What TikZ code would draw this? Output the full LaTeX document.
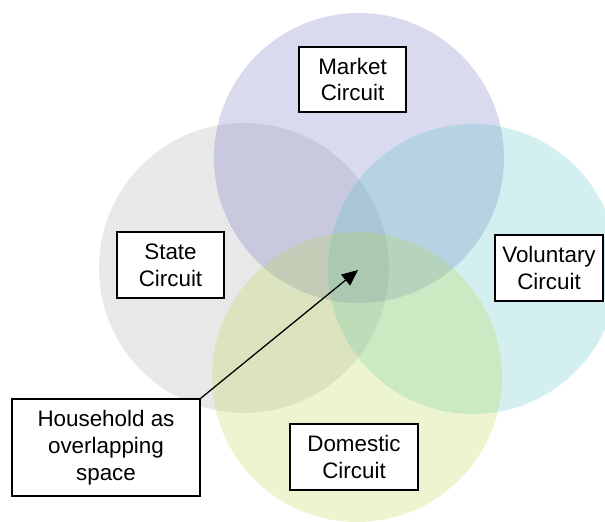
\documentclass[tikz,border=0pt]{standalone}
\usepackage{fontspec}
\setmainfont{Liberation Sans}
\usetikzlibrary{arrows.meta}

\definecolor{marketc}{RGB}{100,100,190}
\definecolor{statec}{RGB}{160,160,160}
\definecolor{volc}{RGB}{70,190,190}
\definecolor{domc}{RGB}{180,215,60}

\tikzset{
  circuit/.style={fill=#1, fill opacity=0.24, draw=none},
  label box/.style={draw=black, line width=0.8pt, fill=white, align=center,
    inner sep=0pt, font=\fontsize{11.2}{13.35}\selectfont},
  pointer/.style={draw=black, line width=0.65pt,
    -{Triangle[length=8pt,width=7pt]}}
}

\begin{document}
\begin{tikzpicture}[x=0.5pt, y=-0.5pt]
  \useasboundingbox (0,0) rectangle (605,521);

  % the four overlapping circuits
  \fill[circuit=statec]  (244,268) circle[radius=72.5pt];
  \fill[circuit=marketc] (359,158) circle[radius=72.5pt];
  \fill[circuit=volc]    (473,269) circle[radius=72.5pt];
  \fill[circuit=domc]    (357,377) circle[radius=72.5pt];

  % labels
  \node[label box, minimum width=53.5pt, minimum height=32.5pt] (market)
    at (352.5,79.5) {Market\\Circuit};
  \node[label box, minimum width=53.5pt, minimum height=33pt] (state)
    at (170.5,265) {State\\Circuit};
  \node[label box, minimum width=54pt, minimum height=33pt] (voluntary)
    at (549,268) {Voluntary\\Circuit};
  \node[label box, minimum width=64pt, minimum height=33pt] (domestic)
    at (354,457) {Domestic\\Circuit};
  \node[label box, minimum width=94pt, minimum height=48.5pt] (household)
    at (106,447.5) {Household as\\overlapping\\space};

  % pointer into the shared centre
  \coordinate (centre) at (358,270);
  \draw[pointer] (household.north east) -- (centre);
\end{tikzpicture}
\end{document}
